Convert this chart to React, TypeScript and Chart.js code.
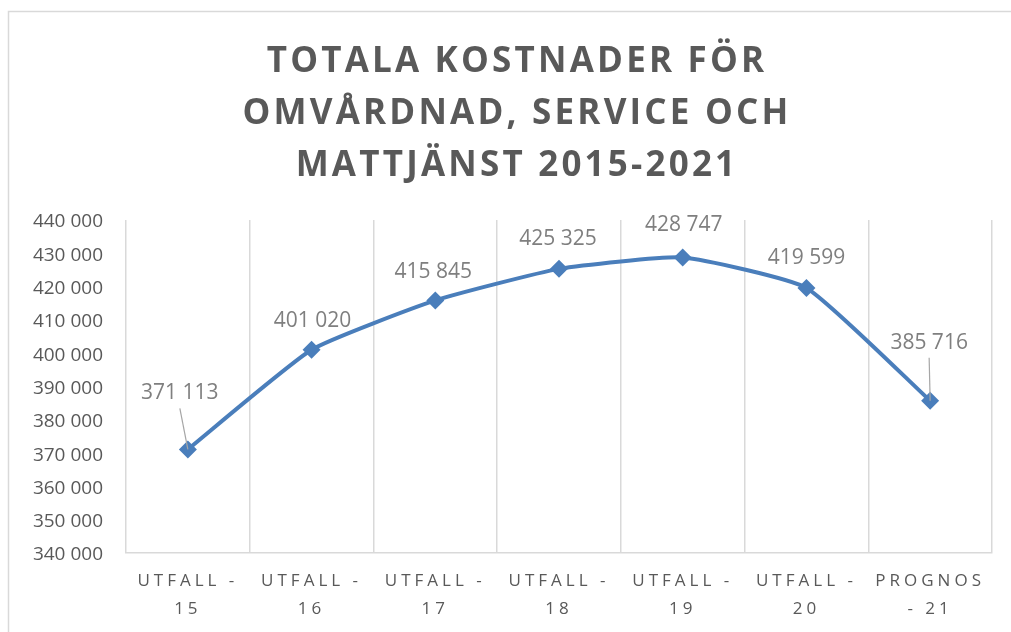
import React, { useEffect, useRef } from "react";
import { Chart, registerables, CategoryScale } from "chart.js";

Chart.register(...registerables);

class SpacedCategoryScale extends CategoryScale {
  static id = "spacedCategory";
  drawLabels(area: any) {
    const ctx = this.ctx as any;
    ctx.save();
    ctx.letterSpacing = "4px";
    super.drawLabels(area);
    ctx.restore();
  }
}
Chart.register(SpacedCategoryScale as any);

const titleLines = ["TOTALA KOSTNADER FÖR", "OMVÅRDNAD, SERVICE OCH", "MATTJÄNST 2015-2021"];
const categories: string[][] = [
  ["UTFALL -", "15"],
  ["UTFALL -", "16"],
  ["UTFALL -", "17"],
  ["UTFALL -", "18"],
  ["UTFALL -", "19"],
  ["UTFALL -", "20"],
  ["PROGNOS", "- 21"],
];
const costs = [371113, 401020, 415845, 425325, 428747, 419599, 385716];
const yMin = 340000;
const yMax = 440000;
const yStep = 10000;

// label placement relative to the point (pixels): [dx, dy, leaderLine]
const labelPlacement: [number, number, boolean][] = [
  [-8, -59, true],
  [1, -32, false],
  [-2, -31, false],
  [-1, -33, false],
  [1, -35, false],
  [0, -33, false],
  [-1, -61, true],
];

const fmt = (v: number) => String(Math.round(v)).replace(/\B(?=(\d{3})+(?!\d))/g, " ");

const framePlugin = {
  id: "frame",
  beforeDraw(chart: any) {
    const ctx = chart.ctx;
    ctx.save();
    ctx.fillStyle = "#ffffff";
    ctx.fillRect(0, 0, chart.width, chart.height);
    ctx.strokeStyle = "#d9d9d9";
    ctx.lineWidth = 1.5;
    ctx.strokeRect(8.5, 11.5, chart.width + 20, chart.height + 20);
    ctx.restore();
  },
};

const titlePlugin = {
  id: "spacedTitle",
  afterDraw(chart: any) {
    const ctx = chart.ctx;
    ctx.save();
    ctx.font = "bold 35px 'Open Sans'";
    ctx.fillStyle = "#595959";
    ctx.letterSpacing = "3.2px";
    ctx.textAlign = "center";
    ctx.textBaseline = "middle";
    titleLines.forEach((line, i) => {
      ctx.fillText(line, 517, 62 + i * 52);
    });
    ctx.restore();
  },
};

const labelPlugin = {
  id: "pointLabels",
  afterDatasetsDraw(chart: any) {
    const ctx = chart.ctx;
    const meta = chart.getDatasetMeta(0);
    ctx.save();
    ctx.font = "21px 'Open Sans'";
    ctx.textAlign = "center";
    ctx.textBaseline = "middle";
    meta.data.forEach((pt: any, i: number) => {
      const [dx, dy, leader] = labelPlacement[i];
      const lx = pt.x + dx;
      const ly = pt.y + dy;
      if (leader) {
        ctx.strokeStyle = "#a6a6a6";
        ctx.lineWidth = 1.2;
        ctx.beginPath();
        ctx.moveTo(lx, ly + 18);
        ctx.lineTo(pt.x, pt.y);
        ctx.stroke();
      }
      ctx.fillStyle = "#7f7f7f";
      ctx.fillText(fmt(costs[i]), lx, ly + 3);
    });
    ctx.restore();
  },
};

export default function App() {
  const ref = useRef<HTMLCanvasElement>(null);
  useEffect(() => {
    const chart = new Chart(ref.current as HTMLCanvasElement, {
      type: "line",
      data: {
        labels: categories,
        datasets: [
          {
            data: costs,
            borderColor: "#4a7ebb",
            backgroundColor: "#4a7ebb",
            borderWidth: 4,
            tension: 0.15,
            pointStyle: "rectRot",
            pointRadius: 9,
            pointBorderWidth: 0,
            pointBackgroundColor: "#4a7ebb",
          },
        ],
      },
      options: {
        animation: false,
        responsive: true,
        maintainAspectRatio: false,
        layout: { padding: { top: 220, right: 19, bottom: 0, left: 0 } },
        plugins: {
          legend: { display: false },
          title: { display: false },
          tooltip: { enabled: false },
        },
        scales: {
          x: {
            type: "spacedCategory" as any,
            offset: true,
            grid: { offset: true, color: "#d9d9d9", lineWidth: 1.5, drawTicks: false },
            border: { color: "#d9d9d9", width: 1.5 },
            ticks: {
              color: "#595959",
              font: { family: "'Open Sans'", size: 17, lineHeight: 1.6 },
              padding: 15,
              maxRotation: 0,
              autoSkip: false,
            },
            afterFit: (s: any) => {
              s.height = 79;
            },
          },
          y: {
            min: yMin,
            max: yMax,
            grid: { display: false, drawTicks: false },
            border: { display: false },
            ticks: {
              stepSize: yStep,
              color: "#595959",
              font: { family: "'Open Sans'", size: 19 },
              padding: 23,
              labelOffset: 2,
              callback: (v: any) => fmt(Number(v)),
            },
            afterFit: (s: any) => {
              s.width = 126;
            },
          },
        },
      },
      plugins: [framePlugin, titlePlugin, labelPlugin],
    });
    return () => chart.destroy();
  }, []);
  return (
    <div style={{ position: "fixed", left: 0, top: 0, width: 1011, height: 632 }}>
      <canvas ref={ref} />
    </div>
  );
}
